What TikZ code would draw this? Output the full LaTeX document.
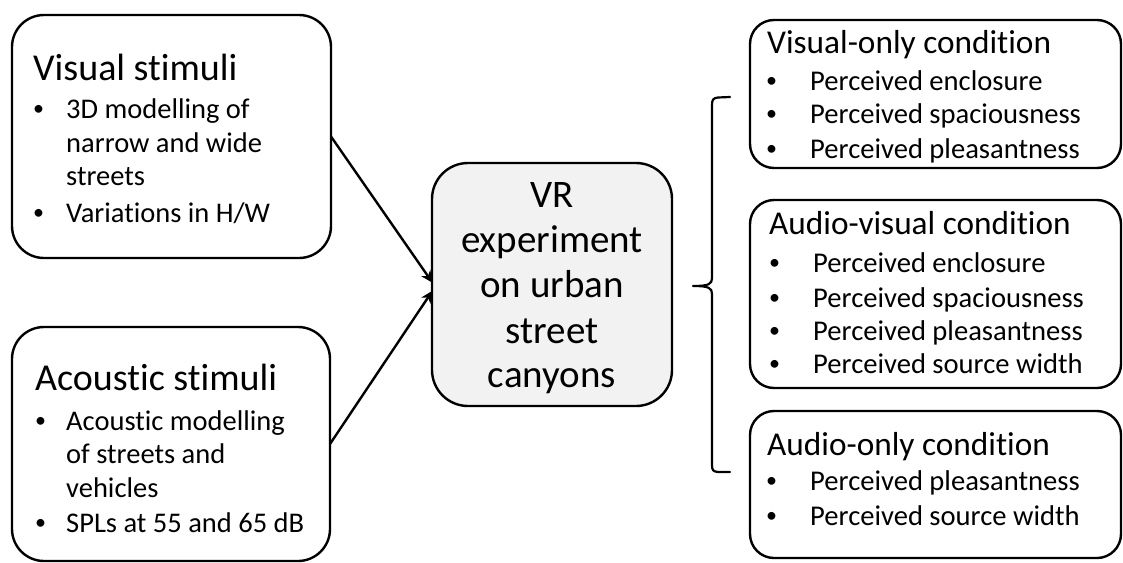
\documentclass[tikz,border=0pt]{standalone}
\usepackage{fontspec}
\setmainfont{Carlito}[Ligatures=NoCommon]
\usetikzlibrary{arrows.meta}
\definecolor{centerfill}{HTML}{F2F2F2}
\begin{document}
\begin{tikzpicture}[x=1pt,y=-1pt,
  box/.style={draw, line width=2.4pt, inner sep=0pt, outer sep=0pt},
  bigbox/.style={box, rounded corners=32pt},
  smallbox/.style={box, rounded corners=24pt},
  ttl/.style={anchor=base west, inner sep=0pt, font=\fontsize{38}{42}\selectfont},
  rttl/.style={anchor=base west, inner sep=0pt, font=\fontsize{33.3}{40}\selectfont},
  itm/.style={anchor=base west, inner sep=0pt, font=\fontsize{28.5}{32}\selectfont},
  ritm/.style={anchor=base west, inner sep=0pt, font=\fontsize{28.6}{32}\selectfont},
  bul/.style={anchor=base west, inner sep=0pt, yshift=3pt, font=\fontsize{22}{26}\selectfont},
  ctr/.style={anchor=base, inner sep=0pt, font=\fontsize{39}{44}\selectfont},
  link/.style={line width=2.4pt, -{Stealth[length=12pt,width=11pt]}, shorten >=-1pt},
  brace/.style={line width=2.2pt, line cap=round, line join=round}
]
\useasboundingbox (0,0) rectangle (1123,562);

% boxes
\node[bigbox, minimum width=319pt, minimum height=243pt] (vis) at (171.5,136.5) {};
\node[bigbox, minimum width=318pt, minimum height=234pt] (aco) at (171,444) {};
\node[bigbox, fill=centerfill, rounded corners=36pt, minimum width=240pt, minimum height=243pt] (cen) at (552,284.5) {};
\node[smallbox, minimum width=371pt, minimum height=148pt] (vo) at (935.5,94) {};
\node[smallbox, minimum width=371pt, minimum height=188pt] (av) at (935.5,294) {};
\node[smallbox, minimum width=371pt, minimum height=147pt] (ao) at (935.5,484.5) {};

% Visual stimuli
\node[ttl] (visT) at (33,80) {Visual stimuli};
\node[bul] (visB1) at (33,118) {•};
\node[itm] (visI1) at (66,118) {3D modelling of};
\node[itm] (visI1b) at (66,152) {narrow and wide};
\node[itm] (visI1c) at (66,185) {streets};
\node[bul] (visB2) at (33,222) {•};
\node[itm] (visI2) at (66,222) {Variations in H/W};

% Acoustic stimuli
\node[ttl] (acoT) at (35,390) {Acoustic stimuli};
\node[bul] (acoB1) at (35,430) {•};
\node[itm] (acoI1) at (66,430) {Acoustic modelling};
\node[itm] (acoI1b) at (66,463) {of streets and};
\node[itm] (acoI1c) at (66,497) {vehicles};
\node[bul] (acoB2) at (35,532) {•};
\node[itm] (acoI2) at (66,532) {SPLs at 55 and 65 dB};

% Centre
\node[ctr] (c1) at (552,207) {VR};
\node[ctr] (c2) at (552,252) {experiment};
\node[ctr] (c3) at (552,297) {on urban};
\node[ctr] (c4) at (552,343) {street};
\node[ctr] (c5) at (552,387) {canyons};

% Visual-only
\node[rttl] (voT) at (767,53) {Visual-only condition};
\node[bul] (voB1) at (766,90) {•};
\node[ritm] (voI1) at (810,90) {Perceived enclosure};
\node[bul] (voB2) at (766,123) {•};
\node[ritm] (voI2) at (810,123) {Perceived spaciousness};
\node[bul] (voB3) at (766,158) {•};
\node[ritm] (voI3) at (810,158) {Perceived pleasantness};

% Audio-visual
\node[rttl] (avT) at (769,234) {Audio-visual condition};
\node[bul] (avB1) at (769,272) {•};
\node[ritm] (avI1) at (813,272) {Perceived enclosure};
\node[bul] (avB2) at (769,307) {•};
\node[ritm] (avI2) at (813,307) {Perceived spaciousness};
\node[bul] (avB3) at (769,340) {•};
\node[ritm] (avI3) at (813,340) {Perceived pleasantness};
\node[bul] (avB4) at (769,373) {•};
\node[ritm] (avI4) at (813,373) {Perceived source width};

% Audio-only
\node[rttl] (aoT) at (767,455) {Audio-only condition};
\node[bul] (aoB1) at (766,490) {•};
\node[ritm] (aoI1) at (810,490) {Perceived pleasantness};
\node[bul] (aoB2) at (766,525) {•};
\node[ritm] (aoI2) at (810,525) {Perceived source width};

% connectors
\draw[link] (vis.east) -- ([yshift=2.5pt]cen.west);
\draw[link] (aco.east) -- ([yshift=-7pt]cen.west);

% brace
\coordinate (brTop) at (730,97);
\coordinate (brTip) at (693,286);
\coordinate (brBot) at (730,472);
\draw[brace] (brTop) -- (718,97.5) .. controls (713,98) and (712,100) .. (712,105)
  -- (712,278) .. controls (712,284) and (709,286) .. (brTip)
  .. controls (709,286) and (712,288) .. (712,294)
  -- (712,465) .. controls (712,470) and (713,471.5) .. (718,472) -- (brBot);
\end{tikzpicture}
\end{document}
